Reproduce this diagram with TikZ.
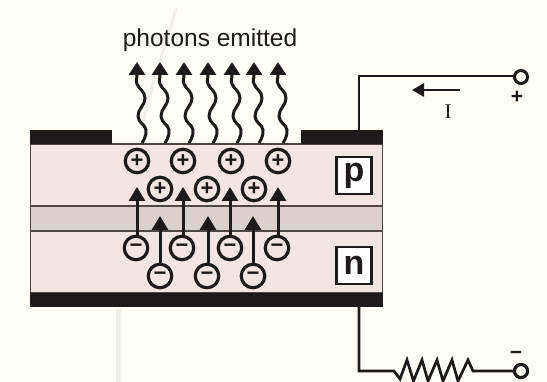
\documentclass[tikz,border=0pt]{standalone}
\usepackage{fontspec}
\setmainfont{Liberation Sans}
\newfontfamily\serifface{Liberation Serif}
\usetikzlibrary{arrows.meta}
\definecolor{paper}{HTML}{FFFDF7}
\definecolor{layer}{HTML}{F1E6E4}
\definecolor{band}{HTML}{DAD1CF}
\definecolor{ink}{HTML}{1E1A1B}
\definecolor{edge}{HTML}{4E4546}
\tikzset{
  x=1pt,y=-1pt,
  every node/.style={inner sep=0pt,outer sep=0pt,text=ink},
  slab/.style={rectangle,draw=edge,line width=1.6pt,minimum width=352,anchor=north west},
  contact/.style={rectangle,fill=ink,anchor=north west},
  charge/.style={circle,draw=ink,line width=3.2pt,minimum size=23.5,fill=none,font=\bfseries\fontsize{22}{22}\selectfont},
  terminal/.style={circle,draw=ink,line width=3pt,minimum size=13,fill=paper},
  wire/.style={draw=ink,line width=2.7pt,line join=miter},
  carrier/.style={draw=ink,line width=3pt,-{Triangle[width=16pt,length=14pt]}},
  photon/.style={draw=ink,line width=3pt,-{Triangle[width=16pt,length=13pt]}},
  typebox/.style={rectangle,draw=ink,line width=2.8pt,fill=white,minimum width=35,minimum height=37,font=\bfseries\fontsize{34}{34}\selectfont}
}
\begin{document}
\begin{tikzpicture}
\useasboundingbox (0,0) rectangle (547,382);
\fill[paper] (0,0) rectangle (547,382);
% faint scan streaks of the source
\draw[line width=3pt,draw=black!6!paper] (176,8) .. controls (165,50) and (150,85) .. (143,125);
\draw[line width=5pt,draw=black!6!paper] (118,309) -- (118,382);
% layers
\node[slab,fill=layer,minimum height=149] (body) at (30.5,144) {};
\node[slab,fill=band,minimum height=25] (active) at (30.5,206) {};
\node[contact,minimum width=82,minimum height=14] (cl) at (30,130) {};
\node[contact,minimum width=82,minimum height=14] (cr) at (301,130) {};
\node[contact,minimum width=353,minimum height=14] (cb) at (30,293) {};
% labels
\node[anchor=base,font=\fontsize{24.5}{25}\selectfont] (title) at (210,47) {photons emitted};
\node[typebox] (ptype) at (354,175.5) {\raisebox{2pt}{p}};
\node[typebox] (ntype) at (354,265.5) {n};
% photons
\foreach \t in {137,160,184,208,232,254,278}{
  \draw[photon] plot[smooth,tension=0.8] coordinates
    {({\t+5},143) ({\t+9},130) ({\t+1},116) ({\t+8},98) ({\t},84) ({\t},75) ({\t},62)};
}
% charges
\foreach \n/\cx in {1/137,2/183,3/231,4/278}{\node[charge] (pa\n) at (\cx,161) {+};}
\foreach \n/\cx in {1/160,2/207,3/254}{\node[charge] (pb\n) at (\cx,189) {+};}
\foreach \n/\cx in {1/136,2/182,3/230,4/277}{\node[charge] (ma\n) at (\cx,248) {−};}
\foreach \n/\cx in {1/160,2/207,3/253}{\node[charge] (mb\n) at (\cx,276) {−};}
% carrier arrows
\foreach \n/\cx in {1/137,2/183,3/230,4/278}{
  \coordinate (ta\n) at (\cx,187);
  \draw[carrier] (ma\n.north -| ta\n) -- (ta\n);
}
\foreach \n/\cx in {1/160,2/208,3/253}{
  \coordinate (tb\n) at (\cx,216);
  \draw[carrier] (mb\n.north -| tb\n) -- (tb\n);
}
% circuit
\node[terminal] (tp) at (521,77) {};
\node[terminal] (tn) at (521,371) {};
\coordinate (ct) at (359,76);
\coordinate (cn) at (359,371);
\draw[wire] (tp.west |- ct) -- (ct) -- (ct |- cr.north);
\coordinate (r0) at (394,371);
\coordinate (r1) at (473,371);
\draw[wire] (ct |- cb.south) -- (cn) -- (r0)
  -- (400,379) -- (407,360) -- (413.5,381) -- (422,360) -- (428,381) -- (437,360)
  -- (443,381) -- (452,360) -- (458,381) -- (468,360) -- (r1) -- (tn);
\node[terminal] at (tn) {};
% current
\coordinate (ia) at (460,90);
\coordinate (ib) at (412,90);
\draw[draw=ink,line width=2.8pt,-{Triangle[width=13pt,length=12pt]}] (ia) -- (ib);
\node[font=\serifface\fontsize{21}{21}\selectfont] (ilabel) at (448,112) {I};
\node[font=\bfseries\fontsize{21}{21}\selectfont] (plus) at (517,97) {+};
\node[font=\bfseries\fontsize{21}{21}\selectfont] (minus) at (516,355) {−};
\end{tikzpicture}
\end{document}
